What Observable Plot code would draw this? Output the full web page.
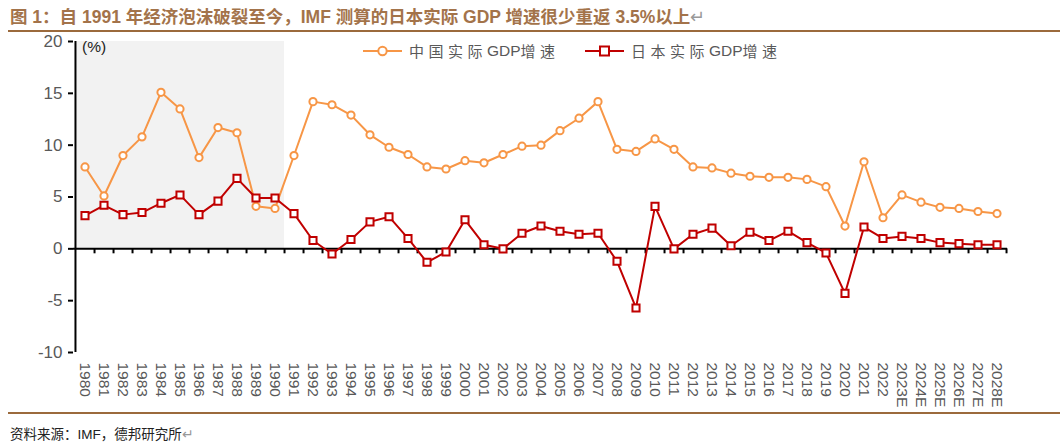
<!DOCTYPE html>
<html>
<head>
<meta charset="utf-8">
<script src="https://cdn.jsdelivr.net/npm/d3@7"></script>
<script src="https://cdn.jsdelivr.net/npm/@observablehq/plot@0.6"></script>
<style>
  html, body { margin: 0; padding: 0; background: #fff; }
  #wrap { position: relative; width: 1063px; height: 444px; overflow: hidden; font-family: "Liberation Sans", Arial, "Noto Sans CJK SC", sans-serif; }
  #chart { position: absolute; left: 0; top: 0; }
  .title { position: absolute; left: 10px; top: 3px; font-size: 17.5px; font-weight: bold; color: #a3734a; white-space: nowrap; font-family: "Liberation Sans", Arial, "Noto Sans CJK SC", sans-serif; }
  .title .ret { font-weight: normal; color: #999; }
  .rule { position: absolute; left: 8px; width: 1052px; height: 2px; background: #9b6a3c; }
  .caption { position: absolute; left: 10px; top: 423px; font-size: 13.5px; color: #222; white-space: nowrap; }
  .caption .ret { color: #999; }
  .unit { position: absolute; left: 82px; top: 38px; font-size: 15.5px; color: #222; }
  .legend { position: absolute; top: 40px; font-size: 15px; color: #595959; white-space: nowrap; display: flex; align-items: center; }
  .legend svg { margin-right: 7px; }
  .legend .cjk { letter-spacing: 4.5px; }
  .legend .lat { letter-spacing: 0; font-size: 15.5px; }
</style>
</head>
<body>
<div id="wrap">
  <div id="chart"></div>
  <div class="title">图 1：自 1991 年经济泡沫破裂至今，IMF 测算的日本实际 GDP 增速很少重返 3.5%以上<span class="ret">↵</span></div>
  <div class="rule" style="top:30px"></div>
  <div class="rule" style="top:412px"></div>
  <div class="caption">资料来源：IMF，德邦研究所<span class="ret">↵</span></div>
  <div class="unit">(%)</div>
  <div class="legend" id="leg1" style="left:363px"></div>
  <div class="legend" id="leg2" style="left:585px"></div>
</div>
<script>
const years = ["1980","1981","1982","1983","1984","1985","1986","1987","1988","1989","1990","1991","1992","1993","1994","1995","1996","1997","1998","1999","2000","2001","2002","2003","2004","2005","2006","2007","2008","2009","2010","2011","2012","2013","2014","2015","2016","2017","2018","2019","2020","2021","2022","2023E","2024E","2025E","2026E","2027E","2028E"];
const china = [7.9,5.1,9.0,10.8,15.1,13.5,8.8,11.7,11.2,4.1,3.9,9.0,14.2,13.9,12.9,11.0,9.8,9.1,7.9,7.7,8.5,8.3,9.1,9.9,10.0,11.4,12.6,14.2,9.6,9.4,10.6,9.6,7.9,7.8,7.3,7.0,6.9,6.9,6.7,6.0,2.2,8.4,3.0,5.2,4.5,4.0,3.9,3.6,3.4];
const japan = [3.2,4.2,3.3,3.5,4.4,5.2,3.3,4.6,6.8,4.9,4.9,3.4,0.8,-0.5,0.9,2.6,3.1,1.0,-1.3,-0.3,2.8,0.4,0.0,1.5,2.2,1.7,1.4,1.5,-1.2,-5.7,4.1,0.0,1.4,2.0,0.3,1.6,0.8,1.7,0.6,-0.4,-4.3,2.1,1.0,1.2,1.0,0.6,0.5,0.4,0.4];
const shadedYears = years.slice(0, 11);
const yTicks = [-10, -5, 0, 5, 10, 15, 20];
const seriesNames = [["中国实际", "GDP", "增速"], ["日本实际", "GDP", "增速"]];

const orange = "#F79646";
const red = "#C00000";

const chinaData = years.map((y, i) => ({year: y, value: china[i]}));
const japanData = years.map((y, i) => ({year: y, value: japan[i]}));

const W = 1063, H = 444, ML = 73, MR = 56;
const halfStep = (W - ML - MR) / years.length / 2;

const chart = Plot.plot({
  width: W,
  height: H,
  marginLeft: ML,
  marginRight: MR,
  marginTop: 41,
  marginBottom: 92,
  style: {fontFamily: "'Liberation Sans', Arial, sans-serif", background: "transparent", overflow: "visible"},
  x: {type: "band", domain: years, padding: 0, axis: null},
  y: {domain: [-10, 20], axis: null},
  marks: [
    Plot.barY(shadedYears, {x: d => d, y: 20, fill: "#f2f2f2", shapeRendering: "crispEdges"}),
    Plot.axisY({ticks: yTicks, tickSize: 5, tickPadding: 6, stroke: "black", strokeWidth: 2, fill: "#595959", fontSize: 17, label: null, tickFormat: d => String(d)}),
    Plot.ruleX([years[0]], {x: d => d, y1: -10, y2: 20, dx: -halfStep, stroke: "black", strokeWidth: 2}),
    Plot.ruleY([0], {stroke: "black", strokeWidth: 2}),
    Plot.ruleX(years, {x: d => d, y1: 0, y2: -0.48, dx: halfStep, stroke: "black", strokeWidth: 2}),
    Plot.axisX({anchor: "bottom", tickSize: 0, tickPadding: 10, tickRotate: 90, fill: "#595959", fontSize: 15.5, label: null}),
    Plot.line(chinaData, {x: "year", y: "value", stroke: orange, strokeWidth: 2}),
    Plot.dot(chinaData, {x: "year", y: "value", symbol: "circle", r: 3.6, fill: "white", stroke: orange, strokeWidth: 2}),
    Plot.line(japanData, {x: "year", y: "value", stroke: red, strokeWidth: 2}),
    Plot.dot(japanData, {x: "year", y: "value", symbol: "square", r: 4, fill: "white", stroke: red, strokeWidth: 2})
  ]
});
document.getElementById("chart").appendChild(chart);

function legendItem(el, color, shape, parts) {
  const sym = shape === "circle"
    ? `<circle cx="19.5" cy="10" r="4.2" fill="white" stroke="${color}" stroke-width="2"/>`
    : `<rect x="15" y="5.5" width="9" height="9" fill="white" stroke="${color}" stroke-width="2"/>`;
  el.innerHTML = `<svg width="39" height="20"><line x1="0" x2="39" y1="10" y2="10" stroke="${color}" stroke-width="2"/>${sym}</svg><span class="cjk">${parts[0]}</span><span class="lat">${parts[1]}</span><span class="cjk">${parts[2]}</span>`;
}
legendItem(document.getElementById("leg1"), orange, "circle", seriesNames[0]);
legendItem(document.getElementById("leg2"), red, "square", seriesNames[1]);
</script>
</body>
</html>
